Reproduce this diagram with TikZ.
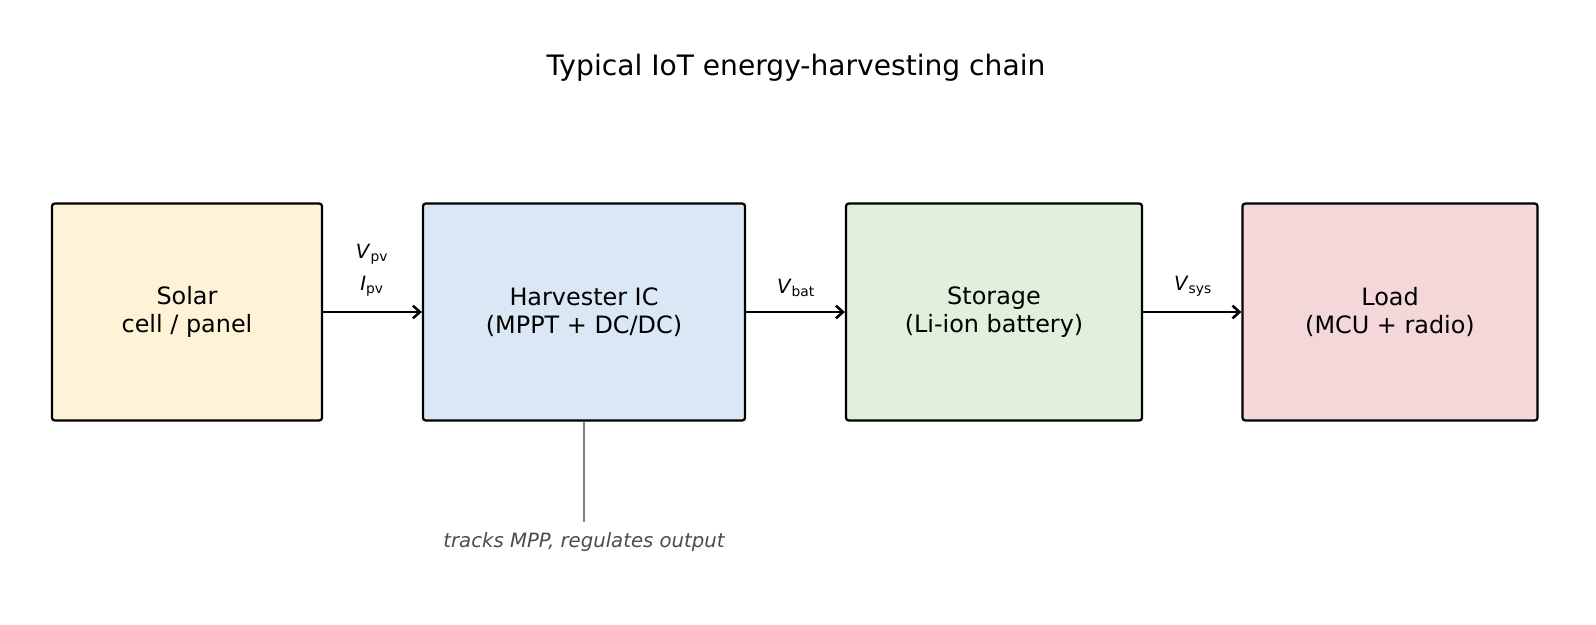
\documentclass[tikz,border=0pt]{standalone}
\usepackage{fontspec}
\setmainfont{DejaVu Sans}
\usetikzlibrary{arrows.meta}
\definecolor{solarfill}{HTML}{FFF3D7}
\definecolor{harvfill}{HTML}{DAE7F4}
\definecolor{storefill}{HTML}{E1F0DA}
\definecolor{loadfill}{HTML}{F4D8D9}
\begin{document}
\begin{tikzpicture}[x=0.025cm,y=-0.025cm,
  block/.style={draw,line width=1.6pt,rounded corners=2pt,align=center,
    font=\fontsize{17}{20}\selectfont,minimum height=217*0.025cm,inner sep=0pt},
  flow/.style={-{Straight Barb[length=5pt,width=9pt]},line width=1.8pt},
  sig/.style={font=\fontsize{14}{16}\selectfont}]
	\useasboundingbox (0,0) rectangle (1596,624);
	\node[font=\fontsize{20}{24}\selectfont] (title) at (796,68) {Typical IoT energy-harvesting chain};
	\node[block,fill=solarfill,minimum width=270*0.025cm] (solar) at (187,312) {Solar\\cell / panel};
	\node[block,fill=harvfill,minimum width=322*0.025cm] (harv) at (584,312) {Harvester IC\\(MPPT + DC/DC)};
	\node[block,fill=storefill,minimum width=296*0.025cm] (store) at (994,312) {Storage\\(Li-ion battery)};
	\node[block,fill=loadfill,minimum width=295*0.025cm] (load) at (1390,312) {Load\\(MCU + radio)};
	\draw[flow] (solar) -- (harv);
	\draw[flow] (harv) -- (store);
	\draw[flow] (store) -- (load);
	\node[sig] (vpv) at (372,254) {\textit{V}\textsubscript{pv}};
	\node[sig] (ipv) at (372,286) {\textit{I}\textsubscript{pv}};
	\node[sig] (vbat) at (796,288) {\textit{V}\textsubscript{bat}};
	\node[sig] (vsys) at (1193,286) {\textit{V}\textsubscript{sys}};
	\coordinate (tip) at (584,522);
	\node[font=\fontsize{14}{16}\selectfont\itshape,text=black!70] (note) at (584,542) {tracks MPP, regulates output};
	\draw[gray,line width=0.8pt] (harv.south) -- (tip);
\end{tikzpicture}
\end{document}
